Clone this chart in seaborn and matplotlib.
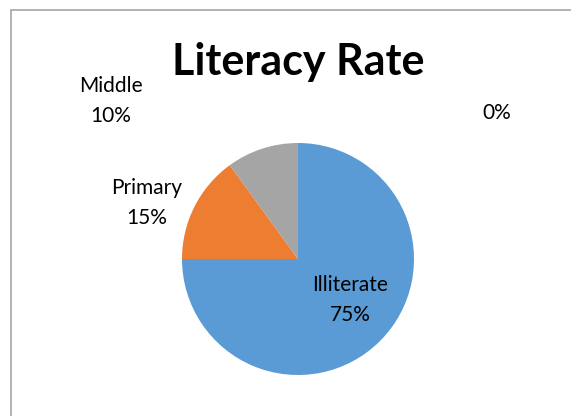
import matplotlib
matplotlib.use("Agg")
import matplotlib.pyplot as plt
import seaborn as sns
from matplotlib.lines import Line2D

categories = ["Illiterate", "Primary", "Middle", ""]
values = [75, 15, 10, 0]
colors = ["#5B9BD5", "#ED7D31", "#A5A5A5", "#FFC000"]
title = "Literacy Rate"

sns.set_theme(style="white")
plt.rcParams["font.family"] = ["Lato", "DejaVu Sans"]

W, H = 571, 416
fig = plt.figure(figsize=(W / 100, H / 100), dpi=100)
ax = fig.add_axes([0, 0, 1, 1])

cx, cy, r = 298, H - 259, 116
ax.pie(values, colors=colors, startangle=90, counterclock=False,
       center=(cx, cy), radius=r, frame=True,
       wedgeprops=dict(linewidth=0))
ax.set_xlim(0, W)
ax.set_ylim(0, H)
ax.set_aspect("equal")
ax.axis("off")

total = sum(values)
label_pos = [(350, H - 300), (147, H - 203), (111, H - 101), (497, H - 113)]
for cat, v, (x, y) in zip(categories, values, label_pos):
    pct = f"{round(100 * v / total)}%"
    txt = f"{cat}\n{pct}" if cat else pct
    ax.text(x, y, txt, ha="center", va="center", fontsize=15,
            color="#000000", linespacing=1.6)

ax.text(298, H - 62, title, ha="center", va="center", fontsize=31,
        fontweight="bold", color="#000000")

fig.add_artist(Line2D([11 / W, 11 / W], [0, (H - 10) / H], transform=fig.transFigure,
                      color="#A6A6A6", linewidth=1.2))
fig.add_artist(Line2D([11 / W, 1], [(H - 10) / H, (H - 10) / H], transform=fig.transFigure,
                      color="#A6A6A6", linewidth=1.2))

fig.savefig("out.png", dpi=100, facecolor="white")
